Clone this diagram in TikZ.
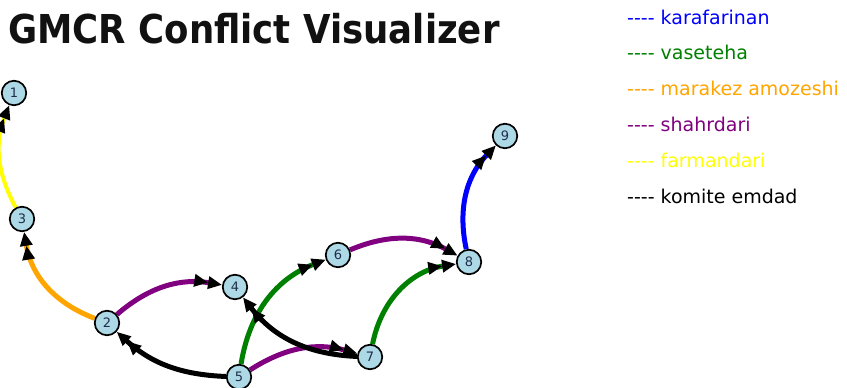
\documentclass[tikz,border=0pt]{standalone}
\usepackage{fontspec}
\usetikzlibrary{arrows.meta}
\newfontfamily\titlefont{DejaVu Sans}
\newfontfamily\legendfont{DejaVu Sans}
\newfontfamily\numfont{DejaVu Sans}

\definecolor{cBlue}{HTML}{0000FF}
\definecolor{cGreen}{HTML}{008000}
\definecolor{cOrange}{HTML}{FFA500}
\definecolor{cPurple}{HTML}{800080}
\definecolor{cYellow}{HTML}{FFFF00}
\definecolor{cBlack}{HTML}{000000}
\definecolor{nodeFill}{HTML}{ADD8E6}
\definecolor{nodeText}{HTML}{1F2D4A}
\definecolor{titleInk}{HTML}{111111}

\pgfdeclarelayer{paper}
\pgfdeclarelayer{links}
\pgfsetlayers{paper,links,main}

% four plain hyphens, kept apart so they do not merge into dashes
\newcommand{\fourdash}{-\kern0pt-\kern0pt-\kern0pt-}

\tikzset{
  vertex/.style={circle, draw=black, line width=1.7pt, fill=nodeFill,
    minimum size=24.5pt, inner sep=0pt, text=nodeText,
    font=\numfont\fontsize{13}{14}\selectfont},
  link/.style={line width=5pt,
    -{Triangle[length=14pt,width=12pt,color=black]Triangle[length=14pt,width=12pt,color=black]}},
  legend/.style={anchor=base west, inner sep=0pt,
    font=\legendfont\fontsize{19}{20}\selectfont}
}

\begin{document}
\begin{tikzpicture}[x=1pt,y=1pt]
\useasboundingbox (0,0) rectangle (847,388);
\begin{pgfonlayer}{paper}
  \fill[white] (0,0) rectangle (847,388);
\end{pgfonlayer}

% title
\node[anchor=base west, inner sep=0pt, text=titleInk] (title) at (8,344)
  {\scalebox{0.893}[1]{\titlefont\bfseries\fontsize{39.8}{40}\selectfont GMCR Conflict Visualizer}};

% legend
\node[legend, text=cBlue]   (lg1) at (627,363) {\fourdash\ karafarinan};
\node[legend, text=cGreen]  (lg2) at (627,328) {\fourdash\ vaseteha};
\node[legend, text=cOrange] (lg3) at (627,292) {\fourdash\ marakez amozeshi};
\node[legend, text=cPurple] (lg4) at (627,256) {\fourdash\ shahrdari};
\node[legend, text=cYellow] (lg5) at (627,220) {\fourdash\ farmandari};
\node[legend, text=cBlack]  (lg6) at (627,184) {\fourdash\ komite emdad};

% vertices
\node[vertex] (n1) at (14,295) {1};
\node[vertex] (n3) at (22,169) {3};
\node[vertex] (n2) at (107,65) {2};
\node[vertex] (n4) at (235,101) {4};
\node[vertex] (n6) at (338,133) {6};
\node[vertex] (n8) at (469,126) {8};
\node[vertex] (n9) at (505,252) {9};
\node[vertex] (n5) at (239,11) {5};
\node[vertex] (n7) at (370,31) {7};

% directed links
\begin{pgfonlayer}{links}
  \draw[link, draw=cYellow, line width=4pt] (n3) to[bend left=25] (n1);
  \draw[link, draw=cOrange] (n2) to[bend left=30] (n3);
  \draw[link, draw=cPurple] (n2) to[bend left=25] (n4);
  \draw[link, draw=cBlack]  (n5) to[bend left=20] (n2);
  \draw[link, draw=cGreen]  (n5) to[bend left=30] (n6);
  \draw[link, draw=cPurple] (n5) to[bend left=24] (n7);
  \draw[link, draw=cBlack]  (n7) to[bend left=25] (n4);
  \draw[link, draw=cPurple] (n6) to[bend left=26] (n8);
  \draw[link, draw=cGreen]  (n7) to[bend left=35] (n8);
  \draw[link, draw=cBlue]   (n8) to[bend left=28] (n9);
\end{pgfonlayer}
\end{tikzpicture}
\end{document}
